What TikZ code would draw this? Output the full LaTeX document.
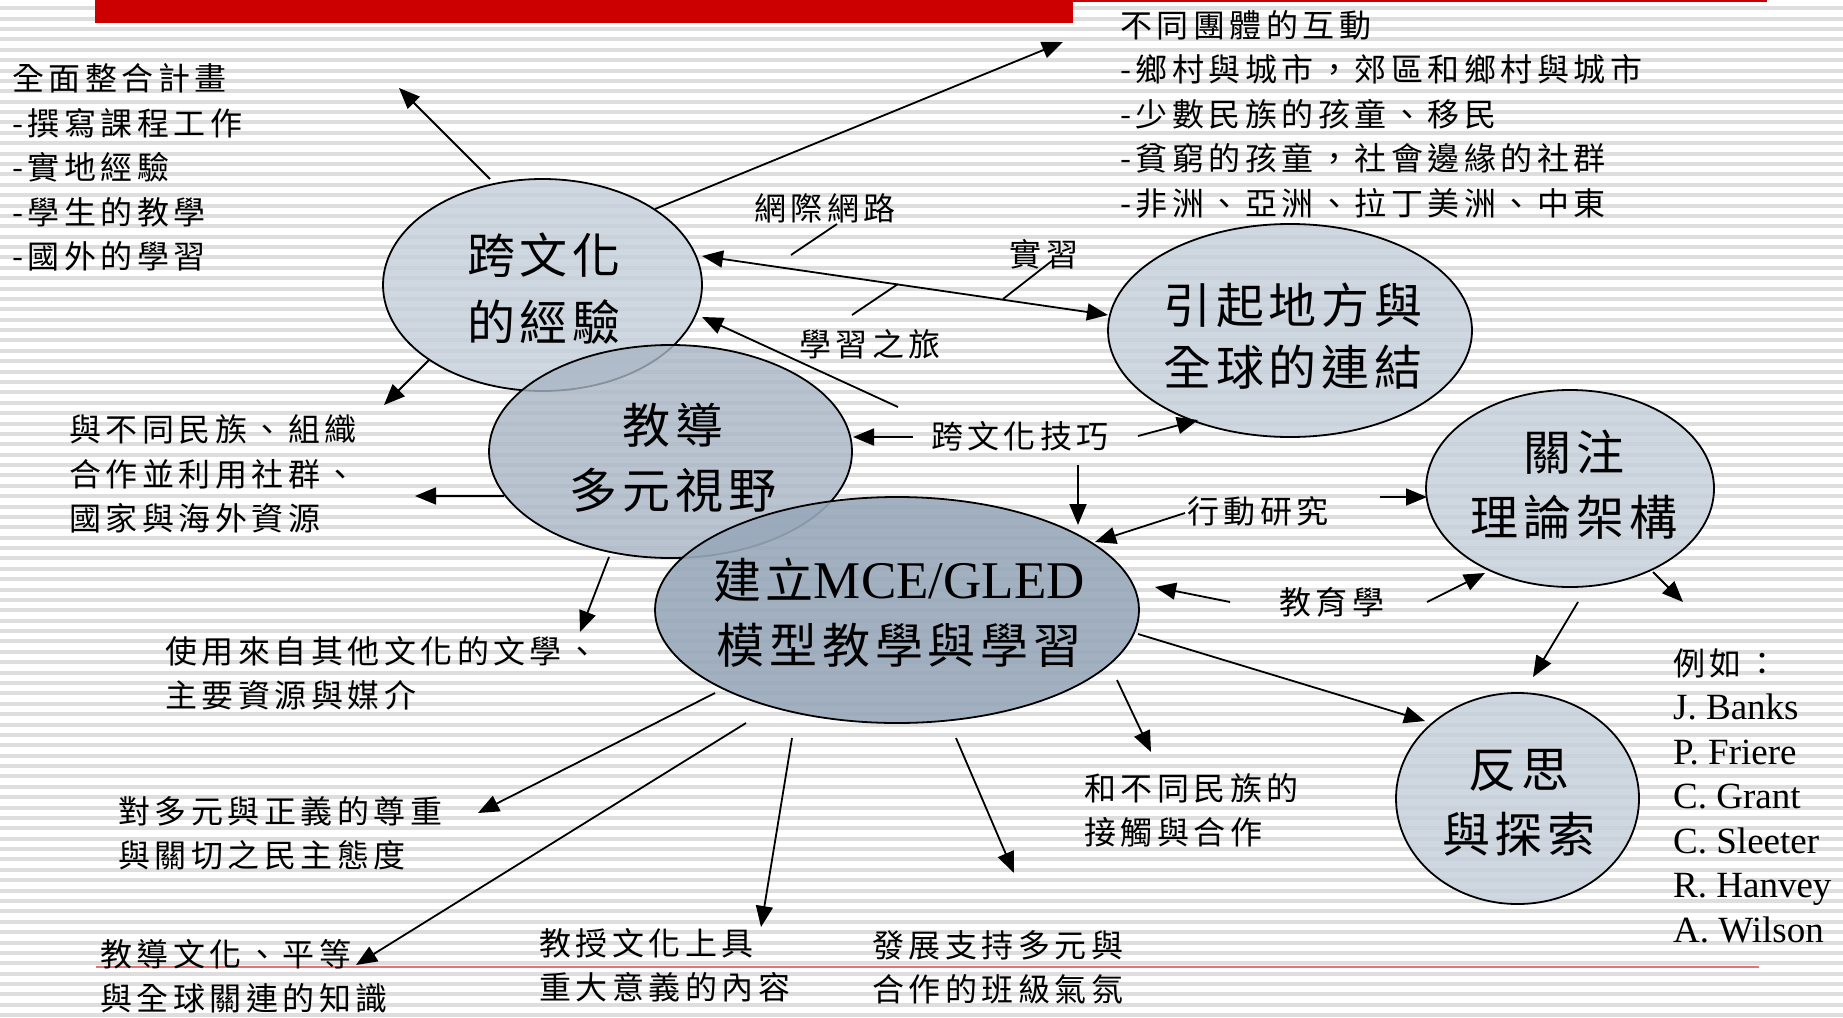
\documentclass[tikz,border=0pt]{standalone}
\usepackage{fontspec}
\setmainfont{Liberation Serif}
\newfontfamily\cjk[LetterSpace=14]{Noto Sans CJK TC}
\newfontfamily\cjkbig[LetterSpace=10]{Noto Sans CJK TC}
\usetikzlibrary{shapes.geometric,arrows.meta}
\definecolor{redbar}{HTML}{CC0000}
\definecolor{redline}{HTML}{E57373}
\definecolor{ellL}{HTML}{C4CEDA}
\definecolor{ellM}{HTML}{A9B6C5}
\definecolor{ellD}{HTML}{98A8BA}
\definecolor{stripecol}{HTML}{DEDEDE}
\tikzset{
  ell/.style={ellipse, draw=black, line width=1.8pt, inner sep=0pt, fill opacity=0.8},
  small/.style={inner sep=0pt, font=\cjk\fontsize{32}{44.4}\selectfont, align=left, anchor=west},
  lbl/.style={inner sep=0pt, font=\cjk\fontsize{32}{44.4}\selectfont},
  big/.style={inner sep=0pt, font=\cjkbig\fontsize{48}{65}\selectfont, align=center},
  arr/.style={line width=1.8pt, -{Triangle[length=21pt,width=17pt]}},
  arrtwo/.style={line width=1.8pt, {Triangle[length=21pt,width=17pt]}-{Triangle[length=21pt,width=17pt]}},
  leader/.style={line width=1.8pt}
}
\begin{document}
\begin{tikzpicture}[x=1pt,y=-1pt]
\useasboundingbox (0,0) rectangle (1843,1017);
\fill[white] (0,0) rectangle (1843,1017);
\foreach \k in {0,...,97} \draw[stripecol, line width=4pt] (0,{8.3+10.38*\k}) -- (1843,{8.3+10.38*\k});
\fill[redbar] (95,0) rectangle (1073,23);
\draw[redbar, line width=2pt] (1073,1) -- (1767,1);
\draw[redline, line width=2.5pt] (96,967) -- (1759,967);

% ellipses
\node[ell, fill=ellL, minimum width=319pt, minimum height=212pt] (A) at (542.5,285) {};
\node[ell, fill=ellM, minimum width=363pt, minimum height=213pt] (B) at (670.5,451.5) {};
\node[ell, fill=ellD, fill opacity=0.9, minimum width=484pt, minimum height=226pt] (C) at (897,610) {};
\node[ell, fill=ellL, minimum width=364pt, minimum height=213pt] (D) at (1290,330.5) {};
\node[ell, fill=ellL, minimum width=288pt, minimum height=197pt] (E) at (1570,488.5) {};
\node[ell, fill=ellL, minimum width=243pt, minimum height=211pt] (F) at (1517.5,798.5) {};

% ellipse texts
\node[big, font=\cjkbig\fontsize{48}{67}\selectfont] (At) at (544,288.5) {跨文化\\的經驗};
\node[big] (Bt) at (673,457.5) {教導\\多元視野};
\node[big] (Ct) at (899,612.5) {建立{\rmfamily\fontsize{53}{65}\selectfont MCE/GLED}\\模型教學與學習};
\node[big, font=\cjkbig\fontsize{48}{61.5}\selectfont] (Dt) at (1293,336) {引起地方與\\全球的連結};
\node[big] (Et) at (1574,485) {關注\\理論架構};
\node[big] (Ft) at (1519,802.5) {反思\\與探索};

% text blocks
\node[small] (T1) at (12,167.5) {全面整合計畫\\-撰寫課程工作\\-實地經驗\\-學生的教學\\-國外的學習};
\node[small, font=\cjk\fontsize{32}{44.5}\selectfont] (T2) at (1120,114) {不同團體的互動\\-鄉村與城市，郊區和鄉村與城市\\-少數民族的孩童、移民\\-貧窮的孩童，社會邊緣的社群\\-非洲、亞洲、拉丁美洲、中東};
\node[small] (T9) at (69,474) {與不同民族、組織\\合作並利用社群、\\國家與海外資源};
\node[small] (T10) at (165,673.5) {使用來自其他文化的文學、\\主要資源與媒介};
\node[small] (T11) at (118,833.5) {對多元與正義的尊重\\與關切之民主態度};
\node[small] (T12) at (100,976) {教導文化、平等\\與全球關連的知識};
\node[small] (T13) at (539,965) {教授文化上具\\重大意義的內容};
\node[small] (T14) at (872,967.5) {發展支持多元與\\合作的班級氣氛};
\node[small] (T15) at (1084,810.5) {和不同民族的\\接觸與合作};
\node[inner sep=0pt, anchor=south west, align=left, font=\fontsize{37}{44.5}\selectfont] (T16) at (1673,943)
  {{\cjk\fontsize{32}{44.5}\selectfont 例如：}\\J. Banks\\P. Friere\\C. Grant\\C. Sleeter\\R. Hanvey\\A. Wilson};

% labels
\node[lbl] (L1) at (825,208) {網際網路};
\node[lbl] (L2) at (1044,254) {實習};
\node[lbl] (L3) at (870,344) {學習之旅};
\node[lbl] (L4) at (1020,436) {跨文化技巧};
\node[lbl] (L5) at (1258,511) {行動研究};
\node[lbl] (L6) at (1332,602) {教育學};

% connector end points
\coordinate (p1s) at (490,179);  \coordinate (p1e) at (399,88);
\coordinate (p2s) at (655,209);  \coordinate (p2e) at (1063,42);
\coordinate (p3s) at (702,256);  \coordinate (p3e) at (1108,315);
\coordinate (p4s) at (898,407);  \coordinate (p4e) at (702,317);
\coordinate (q1s) at (791,255);  \coordinate (q1e) at (837,224);
\coordinate (q2s) at (852,315);  \coordinate (q2e) at (898,284);
\coordinate (q3s) at (1003,299); \coordinate (q3e) at (1053,260);
\coordinate (p5s) at (429,360);  \coordinate (p5e) at (384,405);
\coordinate (p6s) at (504,496);  \coordinate (p6e) at (415,496);
\coordinate (p7s) at (609,557);  \coordinate (p7e) at (580,632);
\coordinate (p8s) at (913,437);  \coordinate (p8e) at (853,437);
\coordinate (p9s) at (1138,436); \coordinate (p9e) at (1198,420);
\coordinate (p10s) at (1078,465); \coordinate (p10e) at (1078,525);
\coordinate (p11s) at (1185,513); \coordinate (p11e) at (1095,542);
\coordinate (p12s) at (1380,497); \coordinate (p12e) at (1427,497);
\coordinate (p13s) at (1230,602); \coordinate (p13e) at (1155,587);
\coordinate (p14s) at (1427,602); \coordinate (p14e) at (1485,573);
\coordinate (p15s) at (1138,634); \coordinate (p15e) at (1425,721);
\coordinate (p16s) at (1578,602); \coordinate (p16e) at (1533,677);
\coordinate (p17s) at (1653,572); \coordinate (p17e) at (1683,602);
\coordinate (p18s) at (715,693);  \coordinate (p18e) at (478,813);
\coordinate (p19s) at (746,723);  \coordinate (p19e) at (356,965);
\coordinate (p20s) at (792,738);  \coordinate (p20e) at (761,927);
\coordinate (p21s) at (956,738);  \coordinate (p21e) at (1014,873);
\coordinate (p22s) at (1117,680); \coordinate (p22e) at (1151,752);

% connectors
\draw[arr] (p1s) -- (p1e);
\draw[arr] (p2s) -- (p2e);
\draw[arrtwo] (p3s) -- (p3e);
\draw[arr] (p4s) -- (p4e);
\draw[leader] (q1s) -- (q1e);
\draw[leader] (q2s) -- (q2e);
\draw[leader] (q3s) -- (q3e);
\draw[arr] (p5s) -- (p5e);
\draw[arr] (p6s) -- (p6e);
\draw[arr] (p7s) -- (p7e);
\draw[arr] (p8s) -- (p8e);
\draw[arr] (p9s) -- (p9e);
\draw[arr] (p10s) -- (p10e);
\draw[arr] (p11s) -- (p11e);
\draw[arr] (p12s) -- (p12e);
\draw[arr] (p13s) -- (p13e);
\draw[arr] (p14s) -- (p14e);
\draw[arr] (p15s) -- (p15e);
\draw[arr] (p16s) -- (p16e);
\draw[arr] (p17s) -- (p17e);
\draw[arr] (p18s) -- (p18e);
\draw[arr] (p19s) -- (p19e);
\draw[arr] (p20s) -- (p20e);
\draw[arr] (p21s) -- (p21e);
\draw[arr] (p22s) -- (p22e);
\end{tikzpicture}
\end{document}
